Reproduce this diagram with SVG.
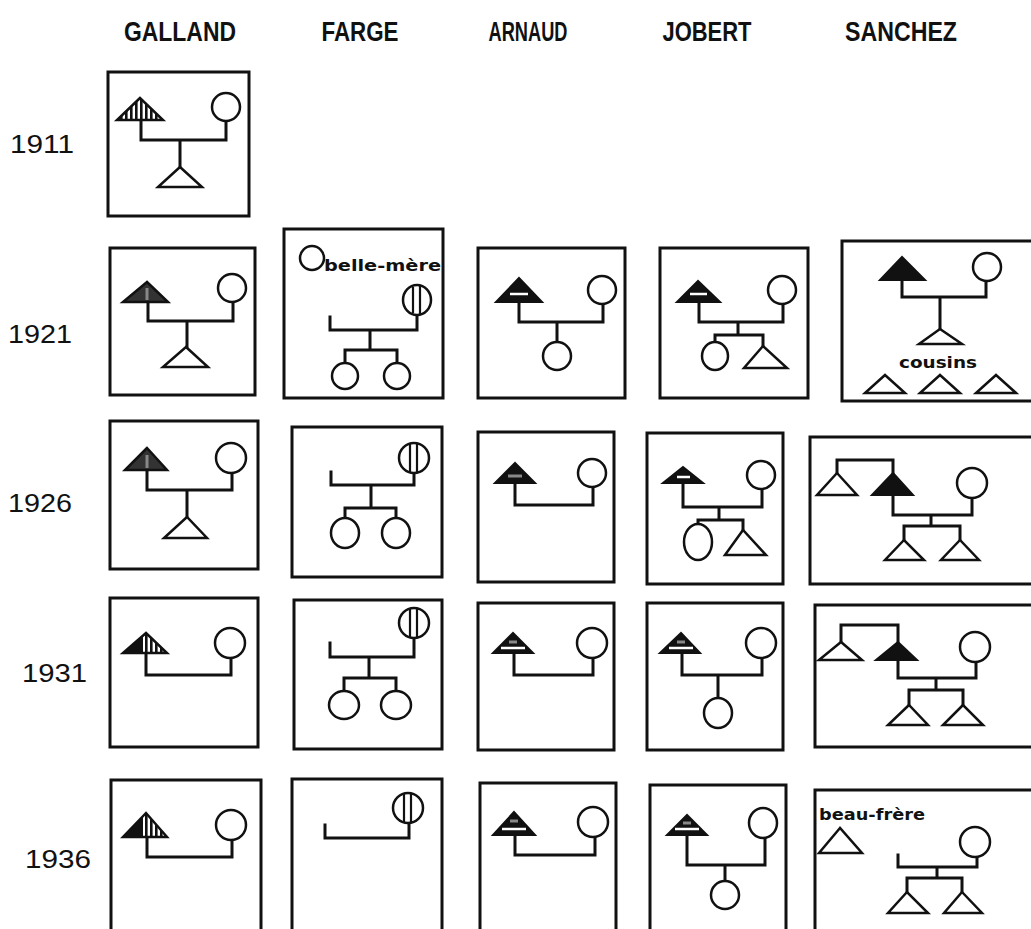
<svg xmlns="http://www.w3.org/2000/svg" width="1031" height="929" viewBox="0 0 1031 929">
<defs>
<pattern id="vstripe" width="5" height="10" patternUnits="userSpaceOnUse">
<rect width="5" height="10" fill="#fff"/>
<rect width="2.6" height="10" fill="#111"/>
</pattern>
</defs>
<style>
.box{fill:none;stroke:#111;stroke-width:3}
.ln{fill:none;stroke:#111;stroke-width:3;stroke-linejoin:miter;stroke-linecap:square}
.tw{fill:#fff;stroke:#111;stroke-width:2.5;stroke-linejoin:miter}
.tb{fill:#111;stroke:#111;stroke-width:2;stroke-linejoin:miter}
.th{fill:url(#vstripe);stroke:#111;stroke-width:2.5;stroke-linejoin:miter}
.tg{fill:#333;stroke:#111;stroke-width:2.5;stroke-linejoin:miter}
.c{fill:#fff;stroke:#111;stroke-width:2.5}
.hl{stroke:#111;stroke-width:2.2}
.ws{stroke:#fff;stroke-width:2.5}
.gs{stroke:#888;stroke-width:3}
.hdr{font-family:"Liberation Sans",Arial,sans-serif;font-weight:bold;font-size:27px;fill:#111}
.yr{font-family:"Liberation Sans",Arial,sans-serif;font-size:26px;fill:#111}
.lbl{font-family:"DejaVu Sans",sans-serif;font-weight:bold;font-size:16px;fill:#111}
</style>
<rect width="1031" height="929" fill="#fff"/>

<g id="headers">
<text class="hdr" x="180" y="41" text-anchor="middle" textLength="112" lengthAdjust="spacingAndGlyphs">GALLAND</text>
<text class="hdr" x="360" y="41" text-anchor="middle" textLength="77" lengthAdjust="spacingAndGlyphs">FARGE</text>
<text class="hdr" x="528" y="41" text-anchor="middle" textLength="79" lengthAdjust="spacingAndGlyphs">ARNAUD</text>
<text class="hdr" x="707" y="41" text-anchor="middle" textLength="89" lengthAdjust="spacingAndGlyphs">JOBERT</text>
<text class="hdr" x="901" y="41" text-anchor="middle" textLength="112" lengthAdjust="spacingAndGlyphs">SANCHEZ</text>
</g>
<g id="years">
<text class="yr" x="10" y="153" textLength="64" lengthAdjust="spacingAndGlyphs">1911</text>
<text class="yr" x="8" y="343" textLength="64" lengthAdjust="spacingAndGlyphs">1921</text>
<text class="yr" x="8" y="512" textLength="64" lengthAdjust="spacingAndGlyphs">1926</text>
<text class="yr" x="22" y="682" textLength="65" lengthAdjust="spacingAndGlyphs">1931</text>
<text class="yr" x="25" y="868" textLength="66" lengthAdjust="spacingAndGlyphs">1936</text>
</g>

<g id="connectors">
<path class="ln" d="M141,120 V140 H226 V121 M180,140 V167"/>
<path class="ln" d="M148,302 V321 H233 V302 M187,321 V347"/>
<path class="ln" d="M330,317 V330 H417 V315 M370,330 V350 M345,363 V350 H397 V363"/>
<path class="ln" d="M519,302 V322 H603 V304 M557,322 V342"/>
<path class="ln" d="M699,302 V322 H783 V304 M738,322 V335 M715,343 V335 H763 V346"/>
<path class="ln" d="M902,280 V297 H986 V281 M940,297 V330"/>
<path class="ln" d="M147,470 V490 H232 V473 M187,490 V517"/>
<path class="ln" d="M331,472 V485 H414 V473 M371,485 V508 M345,518 V508 H396 V518"/>
<path class="ln" d="M515,483 V505 H593 V488"/>
<path class="ln" d="M683,483 V507 H762 V490 M719,507 V520 M698,524 V520 H743 V530"/>
<path class="ln" d="M837,473 V460 H893 V473 M893,495 V515 H972 V498 M931,515 V526 M904,540 V526 H960 V540"/>
<path class="ln" d="M146,653 V675 H231 V658"/>
<path class="ln" d="M330,643 V657 H414 V638 M369,657 V678 M344,691 V678 H396 V691"/>
<path class="ln" d="M514,653 V675 H593 V658"/>
<path class="ln" d="M682,653 V675 H762 V658 M718,675 V698"/>
<path class="ln" d="M841,642 V625 H898 V642 M898,660 V678 H976 V662 M936,678 V690 M909,705 V690 H963 V705"/>
<path class="ln" d="M147,837 V857 H232 V840"/>
<path class="ln" d="M325,825 V838 H409 V823"/>
<path class="ln" d="M515,835 V855 H595 V837"/>
<path class="ln" d="M687,835 V865 H765 V838 M725,865 V881"/>
<path class="ln" d="M898,855 V867 H977 V857 M937,867 V878 M907,892 V878 H962 V892"/>
</g>

<g id="galland-1911">
<rect class="box" x="108" y="72" width="141" height="144"/>
<polygon class="th" points="140,98 117,120 163,120"/>
<circle class="c" cx="226" cy="107" r="14"/>
<polygon class="tw" points="180,167 158,187 202,187"/>
</g>
<g id="galland-1921">
<rect class="box" x="110" y="248" width="145" height="147"/>
<polygon class="tg" points="147,282 123,302 168,302"/>
<line class="gs" x1="147" y1="288" x2="147" y2="300"/>
<circle class="c" cx="232" cy="288" r="14"/>
<polygon class="tw" points="186,347 163,367 208,367"/>
</g>
<g id="farge-1921">
<rect class="box" x="284" y="229" width="159" height="169"/>
<circle class="c" cx="312" cy="258" r="12"/>
<text class="lbl" x="324" y="271" textLength="117" lengthAdjust="spacingAndGlyphs">belle-mère</text>
<ellipse class="c" cx="417" cy="300" rx="14" ry="15"/>
<line class="hl" x1="413" y1="287" x2="413" y2="313"/>
<line class="hl" x1="420" y1="286" x2="420" y2="314"/>
<circle class="c" cx="345" cy="376" r="13"/>
<circle class="c" cx="397" cy="376" r="13"/>
</g>
<g id="arnaud-1921">
<rect class="box" x="478" y="248" width="147" height="150"/>
<polygon class="tb" points="519,278 496,302 542,302"/>
<line class="ws" x1="510" y1="294" x2="528" y2="294"/>
<circle class="c" cx="602" cy="290" r="14"/>
<circle class="c" cx="557" cy="356" r="14"/>
</g>
<g id="jobert-1921">
<rect class="box" x="660" y="248" width="148" height="150"/>
<polygon class="tb" points="698,281 677,302 720,302"/>
<line class="ws" x1="690" y1="294" x2="707" y2="294"/>
<circle class="c" cx="782" cy="290" r="14"/>
<ellipse class="c" cx="715" cy="356" rx="13" ry="14"/>
<polygon class="tw" points="763,346 744,368 787,368"/>
</g>
<g id="sanchez-1921">
<rect class="box" x="842" y="241" width="200" height="160"/>
<polygon class="tb" points="902,257 880,280 925,280"/>
<circle class="c" cx="987" cy="267" r="14"/>
<polygon class="tw" points="940,329 919,344 962,344"/>
<text class="lbl" x="938" y="368" text-anchor="middle" textLength="78" lengthAdjust="spacingAndGlyphs">cousins</text>
<polygon class="tw" points="885,375 865,393 905,393"/>
<polygon class="tw" points="940,375 920,393 960,393"/>
<polygon class="tw" points="996,375 976,393 1016,393"/>
</g>

<g id="galland-1926">
<rect class="box" x="110" y="421" width="148" height="148"/>
<polygon class="tg" points="147,448 125,470 167,470"/>
<line class="gs" x1="147" y1="455" x2="147" y2="468"/>
<circle class="c" cx="231" cy="458" r="15"/>
<polygon class="tw" points="187,517 164,538 207,538"/>
</g>
<g id="farge-1926">
<rect class="box" x="292" y="427" width="150" height="150"/>
<circle class="c" cx="414" cy="458" r="15"/>
<line class="hl" x1="410" y1="444" x2="410" y2="472"/>
<line class="hl" x1="417" y1="444" x2="417" y2="472"/>
<ellipse class="c" cx="345" cy="533" rx="14" ry="15"/>
<ellipse class="c" cx="396" cy="533" rx="14" ry="15"/>
</g>
<g id="arnaud-1926">
<rect class="box" x="478" y="432" width="136" height="150"/>
<polygon class="tb" points="515,463 495,483 535,483"/>
<line class="gs" x1="508" y1="476" x2="522" y2="476"/>
<circle class="c" cx="592" cy="473" r="14"/>
</g>
<g id="jobert-1926">
<rect class="box" x="647" y="433" width="136" height="151"/>
<polygon class="tb" points="683,467 663,483 703,483"/>
<line class="ws" x1="677" y1="477" x2="690" y2="477"/>
<circle class="c" cx="761" cy="475" r="14"/>
<ellipse class="c" cx="698" cy="542" rx="14" ry="18"/>
<polygon class="tw" points="743,530 725,555 766,555"/>
</g>
<g id="sanchez-1926">
<rect class="box" x="810" y="437" width="240" height="147"/>
<polygon class="tw" points="837,473 817,495 857,495"/>
<polygon class="tb" points="893,473 872,495 913,495"/>
<circle class="c" cx="972" cy="483" r="15"/>
<polygon class="tw" points="904,540 885,560 924,560"/>
<polygon class="tw" points="960,540 941,560 979,560"/>
</g>

<g id="galland-1931">
<rect class="box" x="110" y="598" width="148" height="149"/>
<polygon class="th" points="146,633 123,653 167,653"/>
<polygon fill="#111" points="146,633 123,653 143,653 143,636"/>
<circle class="c" cx="230" cy="643" r="15"/>
</g>
<g id="farge-1931">
<rect class="box" x="294" y="600" width="148" height="149"/>
<circle class="c" cx="414" cy="623" r="15"/>
<line class="hl" x1="410" y1="609" x2="410" y2="637"/>
<line class="hl" x1="417" y1="609" x2="417" y2="637"/>
<ellipse class="c" cx="344" cy="705" rx="15" ry="14"/>
<ellipse class="c" cx="396" cy="705" rx="15" ry="14"/>
</g>
<g id="arnaud-1931">
<rect class="box" x="478" y="603" width="136" height="147"/>
<polygon class="tb" points="513,633 493,653 533,653"/>
<line class="gs" x1="509" y1="642" x2="517" y2="642"/>
<line class="ws" x1="501" y1="648" x2="525" y2="648"/>
<circle class="c" cx="592" cy="643" r="15"/>
</g>
<g id="jobert-1931">
<rect class="box" x="647" y="603" width="136" height="147"/>
<polygon class="tb" points="681,633 660,653 700,653"/>
<line class="gs" x1="677" y1="642" x2="685" y2="642"/>
<line class="ws" x1="669" y1="648" x2="693" y2="648"/>
<circle class="c" cx="761" cy="643" r="15"/>
<ellipse class="c" cx="718" cy="713" rx="14" ry="15"/>
</g>
<g id="sanchez-1931">
<rect class="box" x="815" y="605" width="240" height="142"/>
<polygon class="tw" points="841,642 819,660 862,660"/>
<polygon class="tb" points="898,642 876,660 917,660"/>
<circle class="c" cx="975" cy="647" r="15"/>
<polygon class="tw" points="909,705 888,725 928,725"/>
<polygon class="tw" points="963,705 943,725 983,725"/>
</g>

<g id="galland-1936">
<rect class="box" x="111" y="780" width="150" height="200"/>
<polygon class="th" points="146,813 123,837 167,837"/>
<polygon fill="#111" points="146,813 123,837 143,837 143,816"/>
<circle class="c" cx="231" cy="825" r="15"/>
</g>
<g id="farge-1936">
<rect class="box" x="292" y="779" width="150" height="200"/>
<ellipse class="c" cx="408" cy="808" rx="15" ry="15"/>
<line class="hl" x1="404" y1="794" x2="404" y2="822"/>
<line class="hl" x1="411" y1="793" x2="411" y2="823"/>
</g>
<g id="arnaud-1936">
<rect class="box" x="480" y="783" width="136" height="200"/>
<polygon class="tb" points="514,812 493,835 535,835"/>
<line class="gs" x1="510" y1="821" x2="518" y2="821"/>
<line class="ws" x1="502" y1="829" x2="526" y2="829"/>
<circle class="c" cx="593" cy="822" r="15"/>
</g>
<g id="jobert-1936">
<rect class="box" x="650" y="785" width="136" height="200"/>
<polygon class="tb" points="687,815 667,835 707,835"/>
<line class="gs" x1="683" y1="823" x2="691" y2="823"/>
<line class="ws" x1="675" y1="829" x2="699" y2="829"/>
<ellipse class="c" cx="763" cy="823" rx="14" ry="15"/>
<circle class="c" cx="725" cy="895" r="14"/>
</g>
<g id="sanchez-1936">
<rect class="box" x="815" y="790" width="240" height="200"/>
<text class="lbl" x="819" y="820" textLength="106" lengthAdjust="spacingAndGlyphs">beau-frère</text>
<polygon class="tw" points="840,828 819,853 862,853"/>
<circle class="c" cx="975" cy="842" r="15"/>
<polygon class="tw" points="907,892 888,913 928,913"/>
<polygon class="tw" points="962,892 944,913 982,913"/>
</g>
</svg>
